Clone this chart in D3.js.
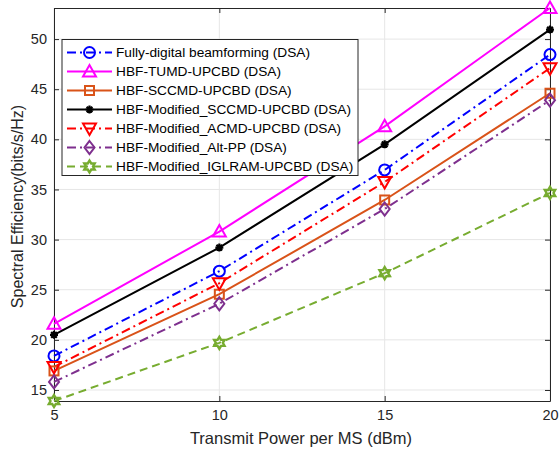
<!DOCTYPE html>
<html><head><meta charset="utf-8">
<script src="https://cdn.jsdelivr.net/npm/d3@7"></script>
<style>body{margin:0;background:#fff;} svg{display:block;font-family:"Liberation Sans",Arial,sans-serif;}</style>
</head><body><svg id="c" width="559" height="453"></svg>
<script>
const xValues = [5, 10, 15, 20];
const xTicks = [5, 10, 15, 20];
const yTicks = [15, 20, 25, 30, 35, 40, 45, 50];
const seriesNames = [
  "Fully-digital beamforming (DSA)",
  "HBF-TUMD-UPCBD (DSA)",
  "HBF-SCCMD-UPCBD (DSA)",
  "HBF-Modified_SCCMD-UPCBD (DSA)",
  "HBF-Modified_ACMD-UPCBD (DSA)",
  "HBF-Modified_Alt-PP (DSA)",
  "HBF-Modified_IGLRAM-UPCBD (DSA)"
];
const fullyDigital = [18.4, 26.85, 36.95, 48.45];
const tumd = [21.6, 30.8, 41.3, 53.1];
const sccmd = [16.9, 24.55, 33.95, 44.6];
const modSccmd = [20.5, 29.2, 39.5, 50.95];
const modAcmd = [17.3, 25.65, 35.75, 47.1];
const altPP = [15.8, 23.6, 33.05, 43.9];
const iglram = [13.9, 19.7, 26.65, 34.65];
const seriesValues = [fullyDigital, tumd, sccmd, modSccmd, modAcmd, altPP, iglram];
const colors = ["#0000FF", "#FF00FF", "#D95319", "#000000", "#FF0000", "#7E2F8E", "#77AC30"];
const dashes = ["dashdot", "solid", "solid", "solid", "dashdot", "dashdot", "dashed"];
const markers = ["circle", "triangleUp", "square", "asterisk", "triangleDown", "diamond", "hexagram"];
const xLabel = "Transmit Power per MS (dBm)";
const yLabel = "Spectral Efficiency(bits/s/Hz)";

const svg = d3.select("#c");
const L = 54, R = 550, T = 8, B = 401;
const x = d3.scaleLinear().domain([5, 20]).range([L, R]);
const y = d3.scaleLinear().domain([13.9, 53.1]).range([B, T]);

// grid
const g = svg.append("g");
g.selectAll(".gy").data(yTicks).enter().append("line")
  .attr("x1", L).attr("x2", R).attr("y1", d => y(d)).attr("y2", d => y(d))
  .attr("stroke", "#e6e6e6").attr("stroke-width", 1);
g.selectAll(".gx").data(xTicks).enter().append("line")
  .attr("y1", T).attr("y2", B).attr("x1", d => x(d)).attr("x2", d => x(d))
  .attr("stroke", "#e6e6e6").attr("stroke-width", 1);

// axes
const axB = svg.append("g").attr("transform", `translate(0,${B})`)
  .call(d3.axisBottom(x).tickValues(xTicks).tickSize(-5).tickPadding(9).tickSizeOuter(0));
const axT = svg.append("g").attr("transform", `translate(0,${T})`)
  .call(d3.axisTop(x).tickValues(xTicks).tickSize(-5).tickFormat("").tickSizeOuter(0));
const axL = svg.append("g").attr("transform", `translate(${L},0)`)
  .call(d3.axisLeft(y).tickValues(yTicks).tickSize(-5).tickPadding(7).tickSizeOuter(0));
const axR = svg.append("g").attr("transform", `translate(${R},0)`)
  .call(d3.axisRight(y).tickValues(yTicks).tickSize(-5).tickFormat("").tickSizeOuter(0));
[axB, axT, axL, axR].forEach(a => {
  a.selectAll("path").attr("stroke", "#262626").attr("stroke-width", 1);
  a.selectAll("line").attr("stroke", "#262626");
  a.selectAll("text").attr("fill", "#262626").style("font-size", "14.5px").style("font-family", "Liberation Sans, Arial, sans-serif");
});

svg.append("text").attr("x", (L + R) / 2 - 1).attr("y", 444).attr("text-anchor", "middle")
  .attr("fill", "#262626").style("font-size", "16.5px").text(xLabel);
svg.append("text").attr("transform", `translate(23,${(T + B) / 2 + 2}) rotate(-90)`).attr("text-anchor", "middle")
  .attr("fill", "#262626").style("font-size", "16px").text(yLabel);

function dashArr(k) {
  if (k === "dashdot") return "9,4,2,4";
  if (k === "dashed") return "8,5";
  return null;
}
function drawMarker(sel, type, color) {
  const sw = 2;
  if (type === "circle") {
    sel.append("circle").attr("r", 5.5).attr("fill", "none").attr("stroke", color).attr("stroke-width", sw);
  } else if (type === "triangleUp") {
    sel.append("path").attr("d", "M0,-6.5L6.5,5L-6.5,5Z").attr("fill", "none").attr("stroke", color).attr("stroke-width", sw);
  } else if (type === "triangleDown") {
    sel.append("path").attr("d", "M0,6.5L6.5,-5L-6.5,-5Z").attr("fill", "none").attr("stroke", color).attr("stroke-width", sw);
  } else if (type === "square") {
    sel.append("rect").attr("x", -4.5).attr("y", -4.5).attr("width", 9).attr("height", 9).attr("fill", "none").attr("stroke", color).attr("stroke-width", sw);
  } else if (type === "diamond") {
    sel.append("path").attr("d", "M0,-6.5L5,0L0,6.5L-5,0Z").attr("fill", "none").attr("stroke", color).attr("stroke-width", sw);
  } else if (type === "asterisk") {
    const r = 4;
    let d = "";
    for (let i = 0; i < 4; i++) {
      const a = i * Math.PI / 4;
      d += `M${r * Math.cos(a)},${r * Math.sin(a)}L${-r * Math.cos(a)},${-r * Math.sin(a)}`;
    }
    sel.append("path").attr("d", d).attr("stroke", color).attr("stroke-width", 2.2);
    sel.append("circle").attr("r", 2.5).attr("fill", color);
  } else if (type === "hexagram") {
    const pts = [];
    for (let i = 0; i < 12; i++) {
      const a = -Math.PI / 2 + i * Math.PI / 6;
      const r = i % 2 === 0 ? 6 : 3.5;
      pts.push([r * Math.cos(a), r * Math.sin(a)]);
    }
    sel.append("path").attr("d", "M" + pts.map(p => p.join(",")).join("L") + "Z")
      .attr("fill", "none").attr("stroke", color).attr("stroke-width", 2.4);
  }
}

const line = d3.line().x((d, i) => x(xValues[i])).y(d => y(d));
const plot = svg.append("g");
seriesValues.forEach((vals, k) => {
  plot.append("path").datum(vals).attr("d", line).attr("fill", "none")
    .attr("stroke", colors[k]).attr("stroke-width", 2)
    .attr("stroke-dasharray", dashArr(dashes[k]));
});
seriesValues.forEach((vals, k) => {
  vals.forEach((v, i) => {
    const m = plot.append("g").attr("transform", `translate(${x(xValues[i])},${y(v)})`);
    drawMarker(m, markers[k], colors[k]);
  });
});

// legend
const lg = svg.append("g");
lg.append("rect").attr("x", 62).attr("y", 39.5).attr("width", 296).attr("height", 136)
  .attr("fill", "#fff").attr("stroke", "#262626").attr("stroke-width", 1);
seriesNames.forEach((name, k) => {
  const cy = 52.5 + k * 19;
  lg.append("line").attr("x1", 67).attr("x2", 112).attr("y1", cy).attr("y2", cy)
    .attr("stroke", colors[k]).attr("stroke-width", 2).attr("stroke-dasharray", dashArr(dashes[k]));
  const m = lg.append("g").attr("transform", `translate(89.5,${cy})`);
  drawMarker(m, markers[k], colors[k]);
  lg.append("text").attr("x", 116).attr("y", cy + 4.5).attr("fill", "#000")
    .style("font-size", "13.7px").text(name);
});
</script></body></html>
